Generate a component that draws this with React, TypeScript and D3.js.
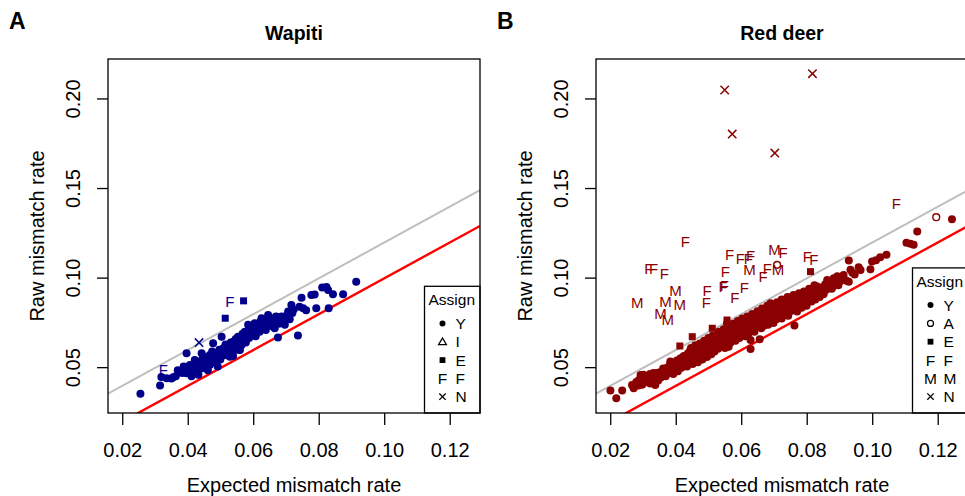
import React from "react";
import * as d3 from "d3";

// ---------- DATA ----------
const xTicks = [0.02, 0.04, 0.06, 0.08, 0.1, 0.12];
const yTicks = [0.05, 0.1, 0.15, 0.2];

// Wapiti
const wapitiY: [number, number][] = [
  [0.0254,0.0355],[0.0314,0.0400],[0.0318,0.0448],[0.0334,0.0441],[0.0349,0.0440],[0.0354,0.0447],[0.0362,0.0452],[0.0368,0.0485],[0.0375,0.0478],[0.0382,0.0470],
  [0.0386,0.0506],[0.0391,0.0490],[0.0395,0.0469],[0.0395,0.0580],[0.0400,0.0498],[0.0405,0.0515],[0.0410,0.0452],[0.0412,0.0480],[0.0415,0.0488],[0.0420,0.0543],
  [0.0423,0.0505],[0.0428,0.0470],[0.0431,0.0460],[0.0434,0.0523],[0.0436,0.0534],[0.0440,0.0495],[0.0441,0.0580],[0.0444,0.0550],[0.0448,0.0512],[0.0451,0.0506],
  [0.0454,0.0540],[0.0457,0.0560],[0.0460,0.0485],[0.0463,0.0528],[0.0466,0.0515],[0.0466,0.0571],[0.0470,0.0548],[0.0473,0.0590],[0.0476,0.0636],[0.0478,0.0530],
  [0.0482,0.0555],[0.0487,0.0580],[0.0490,0.0506],[0.0491,0.0565],[0.0495,0.0600],[0.0498,0.0545],[0.0502,0.0673],[0.0504,0.0585],[0.0507,0.0608],[0.0510,0.0570],
  [0.0514,0.0630],[0.0518,0.0600],[0.0522,0.0617],[0.0525,0.0590],[0.0527,0.0561],[0.0530,0.0640],[0.0533,0.0610],[0.0537,0.0645],[0.0537,0.0565],[0.0541,0.0625],
  [0.0545,0.0660],[0.0548,0.0600],[0.0552,0.0673],[0.0552,0.0640],[0.0556,0.0615],[0.0558,0.0599],[0.0560,0.0655],[0.0563,0.0627],[0.0566,0.0690],[0.0570,0.0660],
  [0.0573,0.0701],[0.0576,0.0640],[0.0580,0.0680],[0.0583,0.0739],[0.0586,0.0665],[0.0590,0.0710],[0.0594,0.0690],[0.0598,0.0701],[0.0600,0.0730],[0.0603,0.0748],
  [0.0606,0.0675],[0.0610,0.0715],[0.0614,0.0740],[0.0618,0.0700],[0.0621,0.0760],[0.0624,0.0776],[0.0628,0.0725],[0.0631,0.0745],[0.0634,0.0739],[0.0637,0.0710],
  [0.0640,0.0765],[0.0644,0.0794],[0.0647,0.0740],[0.0650,0.0760],[0.0654,0.0776],[0.0658,0.0730],[0.0661,0.0755],[0.0664,0.0720],[0.0668,0.0785],[0.0671,0.0760],
  [0.0674,0.0668],[0.0677,0.0745],[0.0681,0.0775],[0.0685,0.0785],[0.0690,0.0760],[0.0695,0.0739],[0.0700,0.0790],[0.0705,0.0813],[0.0710,0.0770],[0.0715,0.0850],
  [0.0718,0.0805],[0.0722,0.0825],[0.0735,0.0679],[0.0740,0.0840],[0.0746,0.0891],[0.0751,0.0832],[0.0760,0.0820],[0.0776,0.0906],[0.0786,0.0908],[0.0791,0.0832],
  [0.0809,0.0947],[0.0822,0.0951],[0.0827,0.0934],[0.0829,0.0832],[0.0842,0.0910],[0.0873,0.0910],[0.0913,0.0980],
  [0.0445,0.0525],[0.0470,0.0560],[0.0500,0.0580],[0.0520,0.0600],[0.0545,0.0635],[0.0575,0.0670],[0.0595,0.0720],[0.0620,0.0730],[0.0645,0.0760],[0.0665,0.0770]
];
const wapitiE: [number, number][] = [[0.0513,0.0776],[0.0569,0.0873]];
const wapitiF: [number, number][] = [[0.0527,0.0869],[0.0324,0.0491]];
const wapitiN: [number, number][] = [[0.0433,0.0640]];

// Red deer
const redY: [number, number][] = [
  [0.0199,0.0372],[0.0217,0.0329],[0.0235,0.0372],[0.0265,0.0403],[0.0270,0.0385],[0.0278,0.0420],[0.0286,0.0431],[0.0291,0.0459],[0.0296,0.0405],[0.0300,0.0440],
  [0.0305,0.0418],[0.0311,0.0431],[0.0316,0.0455],[0.0320,0.0412],[0.0327,0.0442],[0.0330,0.0470],[0.0336,0.0403],[0.0340,0.0450],[0.0345,0.0428],[0.0350,0.0475],
  [0.0353,0.0445],[0.0357,0.0478],[0.0361,0.0460],[0.0365,0.0490],[0.0368,0.0452],[0.0372,0.0500],[0.0376,0.0470],[0.0380,0.0515],[0.0382,0.0534],[0.0385,0.0482],
  [0.0387,0.0505],[0.0391,0.0465],[0.0395,0.0525],[0.0398,0.0495],[0.0402,0.0540],[0.0405,0.0480],[0.0408,0.0512],[0.0413,0.0552],[0.0416,0.0500],[0.0420,0.0530],
  [0.0423,0.0565],[0.0426,0.0515],[0.0430,0.0545],[0.0433,0.0506],[0.0436,0.0580],[0.0440,0.0535],[0.0443,0.0599],[0.0446,0.0555],[0.0450,0.0520],[0.0453,0.0575],
  [0.0456,0.0545],[0.0460,0.0600],[0.0463,0.0560],[0.0466,0.0530],[0.0470,0.0590],[0.0474,0.0608],[0.0477,0.0565],[0.0480,0.0545],[0.0484,0.0570],[0.0487,0.0615],
  [0.0490,0.0590],[0.0494,0.0560],[0.0497,0.0630],[0.0500,0.0600],[0.0504,0.0636],[0.0507,0.0575],[0.0510,0.0610],[0.0514,0.0650],[0.0517,0.0590],[0.0520,0.0625],
  [0.0522,0.0660],[0.0525,0.0673],[0.0528,0.0605],[0.0531,0.0640],[0.0534,0.0620],[0.0537,0.0680],[0.0540,0.0692],[0.0543,0.0630],[0.0546,0.0655],[0.0549,0.0610],
  [0.0552,0.0700],[0.0555,0.0748],[0.0558,0.0665],[0.0560,0.0617],[0.0563,0.0685],[0.0566,0.0640],[0.0569,0.0710],[0.0572,0.0660],[0.0575,0.0730],[0.0578,0.0675],
  [0.0581,0.0650],[0.0584,0.0720],[0.0587,0.0690],[0.0590,0.0745],[0.0593,0.0665],[0.0596,0.0705],[0.0599,0.0680],[0.0602,0.0735],[0.0605,0.0760],[0.0608,0.0700],
  [0.0611,0.0675],[0.0614,0.0725],[0.0617,0.0750],[0.0620,0.0690],[0.0623,0.0770],[0.0627,0.0604],[0.0627,0.0655],[0.0630,0.0740],[0.0633,0.0715],[0.0636,0.0785],
  [0.0639,0.0700],[0.0642,0.0760],[0.0645,0.0730],[0.0648,0.0795],[0.0651,0.0745],[0.0655,0.0659],[0.0657,0.0775],[0.0660,0.0720],[0.0663,0.0805],[0.0666,0.0755],
  [0.0669,0.0735],[0.0672,0.0790],[0.0675,0.0815],[0.0678,0.0760],[0.0681,0.0740],[0.0684,0.0800],[0.0688,0.0860],[0.0691,0.0775],[0.0694,0.0825],[0.0697,0.0750],
  [0.0700,0.0795],[0.0703,0.0840],[0.0706,0.0770],[0.0710,0.0815],[0.0713,0.0790],[0.0716,0.0850],[0.0719,0.0805],[0.0722,0.0775],[0.0725,0.0830],[0.0729,0.0855],
  [0.0732,0.0800],[0.0735,0.0820],[0.0739,0.0870],[0.0742,0.0790],[0.0745,0.0845],[0.0749,0.0815],[0.0752,0.0880],[0.0756,0.0835],[0.0761,0.0735],[0.0764,0.0860],
  [0.0767,0.0820],[0.0769,0.0813],[0.0772,0.0890],[0.0776,0.0850],[0.0780,0.0870],[0.0783,0.0835],[0.0787,0.0905],[0.0790,0.0860],[0.0794,0.0880],[0.0798,0.0845],
  [0.0801,0.0915],[0.0805,0.0890],[0.0810,0.0897],[0.0813,0.0870],[0.0817,0.0925],[0.0821,0.0905],[0.0825,0.0880],[0.0830,0.0953],[0.0834,0.0920],[0.0838,0.0895],
  [0.0841,0.0947],[0.0845,0.0930],[0.0850,0.0910],[0.0855,0.0965],[0.0861,0.0990],[0.0866,0.0945],[0.0871,0.0975],[0.0878,0.0953],[0.0881,0.0999],[0.0886,0.0965],
  [0.0892,0.1010],[0.0899,0.0980],[0.0905,0.1000],[0.0911,0.1018],[0.0920,0.0985],[0.0927,0.1098],[0.0927,0.0980],[0.0932,0.1046],[0.0938,0.1030],[0.0945,0.1020],
  [0.0957,0.1061],[0.0963,0.1045],[0.0993,0.1050],[0.0998,0.1092],[0.1010,0.1100],[0.1023,0.1117],[0.1042,0.1130],[0.1103,0.1198],[0.1115,0.1192],[0.1125,0.1186],
  [0.1136,0.1260],[0.1242,0.1329],
  [0.0445,0.0610],[0.0458,0.0625],[0.0472,0.0635],[0.0485,0.0650],[0.0498,0.0665],[0.0512,0.0680],[0.0530,0.0700],[0.0545,0.0715],[0.0560,0.0725],[0.0574,0.0745],
  [0.0588,0.0760],[0.0602,0.0775],[0.0617,0.0785],[0.0632,0.0800],[0.0648,0.0815],[0.0662,0.0830],[0.0678,0.0845],[0.0693,0.0850],[0.0708,0.0865],[0.0722,0.0880],
  [0.0740,0.0895],[0.0758,0.0905],[0.0775,0.0915],[0.0790,0.0925],[0.0806,0.0940],[0.0822,0.0960],
  [0.0425,0.0540],[0.0448,0.0570],[0.0468,0.0580],[0.0488,0.0600],[0.0508,0.0620],[0.0526,0.0650],[0.0548,0.0670],[0.0568,0.0690],[0.0588,0.0705],[0.0608,0.0725],
  [0.0628,0.0745],[0.0650,0.0770],[0.0670,0.0780],[0.0690,0.0800],[0.0712,0.0825],[0.0734,0.0840],[0.0755,0.0860],[0.0778,0.0880],[0.0800,0.0880],[0.0820,0.0890],
  [0.0840,0.0915],[0.0858,0.0935],[0.0875,0.0940],[0.0895,0.0960],[0.0915,0.0990],
  [0.0285,0.0400],[0.0300,0.0460],[0.0320,0.0465],[0.0340,0.0470],[0.0360,0.0495],[0.0378,0.0490],[0.0395,0.0510],[0.0410,0.0530]
];
const redA: [number, number][] = [[0.0708,0.1074],[0.1194,0.1340]];
const redE: [number, number][] = [[0.0810,0.1036],[0.0555,0.0766],[0.0510,0.0720],[0.0449,0.0673],[0.0411,0.0621]];
const redF: [number, number][] = [
  [0.1072,0.1418],[0.0428,0.1204],[0.0316,0.1055],[0.0331,0.1055],[0.0364,0.1027],[0.0494,0.0930],[0.0492,0.0863],
  [0.0543,0.0953],[0.0547,0.0956],[0.0550,0.1036],[0.0579,0.0893],[0.0608,0.0944],[0.0563,0.1130],[0.0596,0.1106],
  [0.0627,0.1124],[0.0620,0.1110],[0.0665,0.1008],[0.0678,0.1055],[0.0726,0.1142],[0.0800,0.1117],[0.0820,0.1102]
];
const redM: [number, number][] = [
  [0.0398,0.0928],[0.0281,0.0860],[0.0367,0.0869],[0.0411,0.0850],[0.0352,0.0804],[0.0374,0.0766],
  [0.0624,0.1046],[0.0711,0.1046],[0.0700,0.1161]
];
const redN: [number, number][] = [[0.0548,0.2050],[0.0816,0.2141],[0.0571,0.1804],[0.0701,0.1698]];

const wapitiLegend = ["Y", "I", "E", "F", "N"];
const redLegend = ["Y", "A", "E", "F", "M", "N"];

// ---------- LAYOUT ----------
const W = 965;
const H = 496;
const FONT = "'Liberation Sans', Arial, Helvetica, sans-serif";
const plotLeft = 108;
const plotW = 372;
const plotTop = 59;
const plotBottom = 413;
const xDomain: [number, number] = [0.0155, 0.1291];
const yDomain: [number, number] = [0.0247, 0.2223];

type Panel = {
  letter: string;
  title: string;
  offset: number;
  color: string;
  Y: [number, number][];
  A: [number, number][];
  E: [number, number][];
  F: [number, number][];
  M: [number, number][];
  N: [number, number][];
  legend: string[];
  id: string;
};

function LegendSymbol({ code, x, y }: { code: string; x: number; y: number }) {
  switch (code) {
    case "Y":
      return <circle cx={x} cy={y} r={3} fill="#000" />;
    case "A":
      return <circle cx={x} cy={y} r={3} fill="none" stroke="#000" strokeWidth={1.2} />;
    case "I":
      return (
        <path
          d={`M${x},${y - 3.8}L${x + 3.9},${y + 2.8}L${x - 3.9},${y + 2.8}Z`}
          fill="none"
          stroke="#000"
          strokeWidth={1.3}
        />
      );
    case "E":
      return <rect x={x - 2.9} y={y - 2.9} width={5.8} height={5.8} fill="#000" />;
    case "N":
      return (
        <path
          d={`M${x - 3.2},${y - 3.2}L${x + 3.2},${y + 3.2}M${x - 3.2},${y + 3.2}L${x + 3.2},${y - 3.2}`}
          stroke="#000"
          strokeWidth={1.3}
        />
      );
    default:
      return (
        <text x={x} y={y + 5.5} fontSize={15.5} textAnchor="middle" fontFamily={FONT} fill="#000">
          {code}
        </text>
      );
  }
}

function PanelView({ p }: { p: Panel }) {
  const left = plotLeft + p.offset;
  const right = left + plotW;
  const x = d3.scaleLinear().domain(xDomain).range([left, right]);
  const y = d3.scaleLinear().domain(yDomain).range([plotBottom, plotTop]);
  const cx = (left + right) / 2;
  const grayLine = d3.line<number>().x((v) => x(v)).y((v) => y(v + 0.02));
  const redLine = d3.line<number>().x((v) => x(v)).y((v) => y(v));
  const lineXs = [xDomain[0], xDomain[1]];
  const cs = 4.2;

  const n = p.legend.length;
  const legLeft = right - 55.5;
  const legTop = plotBottom - (34.7 + 18.4 * n);
  const legRight = Math.min(right, W + 10);

  return (
    <g>
      <text x={p.offset + 9} y={29} fontSize={23} fontWeight="bold" fontFamily={FONT}>
        {p.letter}
      </text>
      <text x={cx} y={40} fontSize={19.5} fontWeight="bold" textAnchor="middle" fontFamily={FONT}>
        {p.title}
      </text>
      <defs>
        <clipPath id={`clip-${p.id}`}>
          <rect x={left} y={plotTop} width={plotW} height={plotBottom - plotTop} />
        </clipPath>
      </defs>
      <g clipPath={`url(#clip-${p.id})`}>
        <path d={grayLine(lineXs) || ""} stroke="#BEBEBE" strokeWidth={2} fill="none" />
        <path d={redLine(lineXs) || ""} stroke="#FF0000" strokeWidth={2.4} fill="none" />
        {p.Y.map((d, i) => (
          <circle key={`y${i}`} cx={x(d[0])} cy={y(d[1])} r={4} fill={p.color} />
        ))}
        {p.A.map((d, i) => (
          <circle key={`a${i}`} cx={x(d[0])} cy={y(d[1])} r={3.4} fill="none" stroke={p.color} strokeWidth={1.4} />
        ))}
        {p.E.map((d, i) => (
          <rect key={`e${i}`} x={x(d[0]) - 3.5} y={y(d[1]) - 3.5} width={7} height={7} fill={p.color} />
        ))}
        {p.F.map((d, i) => (
          <text key={`f${i}`} x={x(d[0])} y={y(d[1]) + 5.3} fontSize={15} textAnchor="middle" fontFamily={FONT} fill={p.color}>
            F
          </text>
        ))}
        {p.M.map((d, i) => (
          <text key={`m${i}`} x={x(d[0])} y={y(d[1]) + 5.3} fontSize={15} textAnchor="middle" fontFamily={FONT} fill={p.color}>
            M
          </text>
        ))}
        {p.N.map((d, i) => (
          <path
            key={`n${i}`}
            d={`M${x(d[0]) - cs},${y(d[1]) - cs}L${x(d[0]) + cs},${y(d[1]) + cs}M${x(d[0]) - cs},${y(d[1]) + cs}L${x(d[0]) + cs},${y(d[1]) - cs}`}
            stroke={p.color}
            strokeWidth={1.5}
          />
        ))}
      </g>
      {/* legend */}
      <rect x={legLeft} y={legTop} width={legRight - legLeft} height={plotBottom - legTop} fill="#fff" stroke="#000" strokeWidth={1.3} />
      <text x={legLeft + 4} y={legTop + 19} fontSize={15.5} fontFamily={FONT}>
        Assign
      </text>
      {p.legend.map((c, i) => {
        const ry = legTop + 37.2 + i * 18.3;
        return (
          <g key={c}>
            <LegendSymbol code={c} x={legLeft + 18} y={ry} />
            <text x={legLeft + 31} y={ry + 5.5} fontSize={15.5} fontFamily={FONT}>
              {c}
            </text>
          </g>
        );
      })}
      {/* box */}
      <rect x={left} y={plotTop} width={plotW} height={plotBottom - plotTop} fill="none" stroke="#000" strokeWidth={1.3} />
      {/* x axis */}
      {xTicks.map((t) => (
        <g key={`xt${t}`}>
          <line x1={x(t)} x2={x(t)} y1={plotBottom} y2={plotBottom + 12} stroke="#000" strokeWidth={1.3} />
          <text x={x(t)} y={457} fontSize={20} textAnchor="middle" fontFamily={FONT}>
            {d3.format(".2f")(t)}
          </text>
        </g>
      ))}
      {yTicks.map((t) => (
        <g key={`yt${t}`}>
          <line x1={left - 11} x2={left} y1={y(t)} y2={y(t)} stroke="#000" strokeWidth={1.3} />
          <text
            transform={`translate(${left - 28},${y(t)}) rotate(-90)`}
            fontSize={20}
            textAnchor="middle"
            fontFamily={FONT}
          >
            {d3.format(".2f")(t)}
          </text>
        </g>
      ))}
      <text x={cx} y={492} fontSize={20} textAnchor="middle" fontFamily={FONT}>
        Expected mismatch rate
      </text>
      <text
        transform={`translate(${left - 64.5},${(plotTop + plotBottom) / 2}) rotate(-90)`}
        fontSize={20}
        textAnchor="middle"
        fontFamily={FONT}
      >
        Raw mismatch rate
      </text>
    </g>
  );
}

const panels: Panel[] = [
  {
    letter: "A",
    title: "Wapiti",
    offset: 0,
    color: "#00008B",
    Y: wapitiY,
    A: [],
    E: wapitiE,
    F: wapitiF,
    M: [],
    N: wapitiN,
    legend: wapitiLegend,
    id: "a",
  },
  {
    letter: "B",
    title: "Red deer",
    offset: 488,
    color: "#8B0000",
    Y: redY,
    A: redA,
    E: redE,
    F: redF,
    M: redM,
    N: redN,
    legend: redLegend,
    id: "b",
  },
];

export default function App() {
  return (
    <svg
      width={W}
      height={H}
      viewBox={`0 0 ${W} ${H}`}
      style={{ position: "absolute", left: 0, top: 0, background: "#fff" }}
    >
      <rect x={0} y={0} width={W} height={H} fill="#fff" />
      {panels.map((p) => (
        <PanelView key={p.id} p={p} />
      ))}
    </svg>
  );
}
